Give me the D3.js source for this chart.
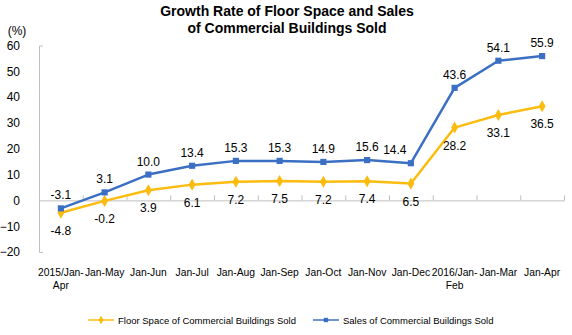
<!DOCTYPE html>
<html>
<head>
<meta charset="utf-8">
<script src="https://cdn.jsdelivr.net/npm/d3@7"></script>
<style>
  body { margin: 0; background: #fff; }
  svg { display: block; font-family: "Liberation Sans", Arial, sans-serif; }
  .titulo { font-size: 14px; font-weight: bold; fill: #000; }
  .eixo text { font-size: 12px; fill: #000; }
  .eixo path, .eixo line { stroke: #bfbfbf; }
  .categoria { font-size: 10.3px; fill: #000; }
  .rotulo { font-size: 12px; fill: #000; }
  .legenda { font-size: 9.5px; fill: #000; }
</style>
</head>
<body>
<svg id="grafico"></svg>
<script>
// dados do gráfico
const categorias = ['2015/Jan-Apr', 'Jan-May', 'Jan-Jun', 'Jan-Jul', 'Jan-Aug', 'Jan-Sep',
  'Jan-Oct', 'Jan-Nov', 'Jan-Dec', '2016/Jan-Feb', 'Jan-Mar', 'Jan-Apr'];
const areaVendida = [-4.8, -0.2, 3.9, 6.1, 7.2, 7.5, 7.2, 7.4, 6.5, 28.2, 33.1, 36.5];
const vendas = [-3.1, 3.1, 10.0, 13.4, 15.3, 15.3, 14.9, 15.6, 14.4, 43.6, 54.1, 55.9];
const ticksY = [-20, -10, 0, 10, 20, 30, 40, 50, 60];
const series = [
  { nome: 'Floor Space of Commercial Buildings Sold', valores: areaVendida, cor: '#fcbc0f', simbolo: d3.symbolDiamond, tamanho: 42, acima: false },
  { nome: 'Sales of Commercial Buildings Sold', valores: vendas, cor: '#3b6fc3', simbolo: d3.symbolSquare, tamanho: 38, acima: true }
];

const largura = 572, altura = 335;
const margem = { esquerda: 39, direita: 8, superior: 45.5, inferior: 83 };

const svg = d3.select('#grafico').attr('width', largura).attr('height', altura);

// título em duas linhas
svg.append('text').attr('class', 'titulo').attr('x', 287).attr('y', 16)
    .attr('text-anchor', 'middle').text('Growth Rate of Floor Space and Sales');
svg.append('text').attr('class', 'titulo').attr('x', 287).attr('y', 33)
    .attr('text-anchor', 'middle').text('of Commercial Buildings Sold');

// escalas
const x = d3.scaleBand().domain(categorias).range([margem.esquerda, largura - margem.direita]);
const y = d3.scaleLinear().domain([-20, 60]).range([altura - margem.inferior, margem.superior]);
const centro = c => x(c) + x.bandwidth() / 2;

// eixo Y
svg.append('text').attr('x', 17).attr('y', 35).attr('text-anchor', 'middle')
    .style('font-size', '12px').text('(%)');

svg.append('g').attr('class', 'eixo')
    .attr('transform', `translate(${margem.esquerda},0)`)
    .call(d3.axisLeft(y).tickValues(ticksY).tickSizeInner(0).tickSizeOuter(-4).tickPadding(19));

// eixo X na linha do zero, com marcas entre as categorias
const limites = d3.scaleLinear().domain([0, categorias.length]).range(x.range());
svg.append('g').attr('class', 'eixo')
    .attr('transform', `translate(0,${y(0)})`)
    .call(d3.axisBottom(limites).ticks(categorias.length).tickSize(-5).tickSizeOuter(0).tickFormat(''));

// rótulos das categorias (quebra depois do primeiro hífen quando não cabem)
const rotulosX = svg.append('g');
categorias.forEach(c => {
  const t = rotulosX.append('text').attr('class', 'categoria')
      .attr('x', centro(c)).attr('y', 276).attr('text-anchor', 'middle');
  const linhas = c.length > 8 ? [c.slice(0, c.indexOf('-') + 1), c.slice(c.indexOf('-') + 1)] : [c];
  linhas.forEach((l, i) => t.append('tspan').attr('x', centro(c)).attr('dy', i ? 13 : 0).text(l));
});

// linhas, marcadores e rótulos de valor
const linha = d3.line().x((d, i) => centro(categorias[i])).y(d => y(d));

series.forEach(s => {
  const g = svg.append('g');
  g.append('path').datum(s.valores)
      .attr('d', linha).attr('fill', 'none')
      .attr('stroke', s.cor).attr('stroke-width', 2.5).attr('stroke-linejoin', 'round');

  g.selectAll('.ponto').data(s.valores).enter().append('path')
      .attr('class', 'ponto')
      .attr('d', d3.symbol(s.simbolo, s.tamanho))
      .attr('fill', s.cor)
      .attr('transform', (d, i) => `translate(${centro(categorias[i])},${y(d)})`);

  // rótulo afastado para a esquerda quando o próximo segmento sobe muito
  const desvio = (d, i) => (s.acima && i < s.valores.length - 1 && s.valores[i + 1] - d > 20) ? -16 : 0;

  g.selectAll('.rotulo').data(s.valores).enter().append('text')
      .attr('class', 'rotulo')
      .attr('text-anchor', 'middle')
      .attr('x', (d, i) => centro(categorias[i]) + desvio(d, i))
      .attr('y', d => s.acima ? y(d) - 9 : y(d) + 22)
      .text(d => d.toFixed(1));
});

// legenda
let posLegenda = 88;
series.forEach(s => {
  const g = svg.append('g').attr('transform', `translate(${posLegenda},320)`);
  g.append('line').attr('x1', 0).attr('x2', 26).attr('stroke', s.cor).attr('stroke-width', 1.5);
  g.append('path').attr('d', d3.symbol(s.simbolo, s.tamanho * 0.5)).attr('fill', s.cor)
      .attr('transform', 'translate(13,0)');
  const t = g.append('text').attr('class', 'legenda').attr('x', 30).attr('y', 4).text(s.nome);
  posLegenda += 30 + t.node().getComputedTextLength() + 17;
});
</script>
</body>
</html>
